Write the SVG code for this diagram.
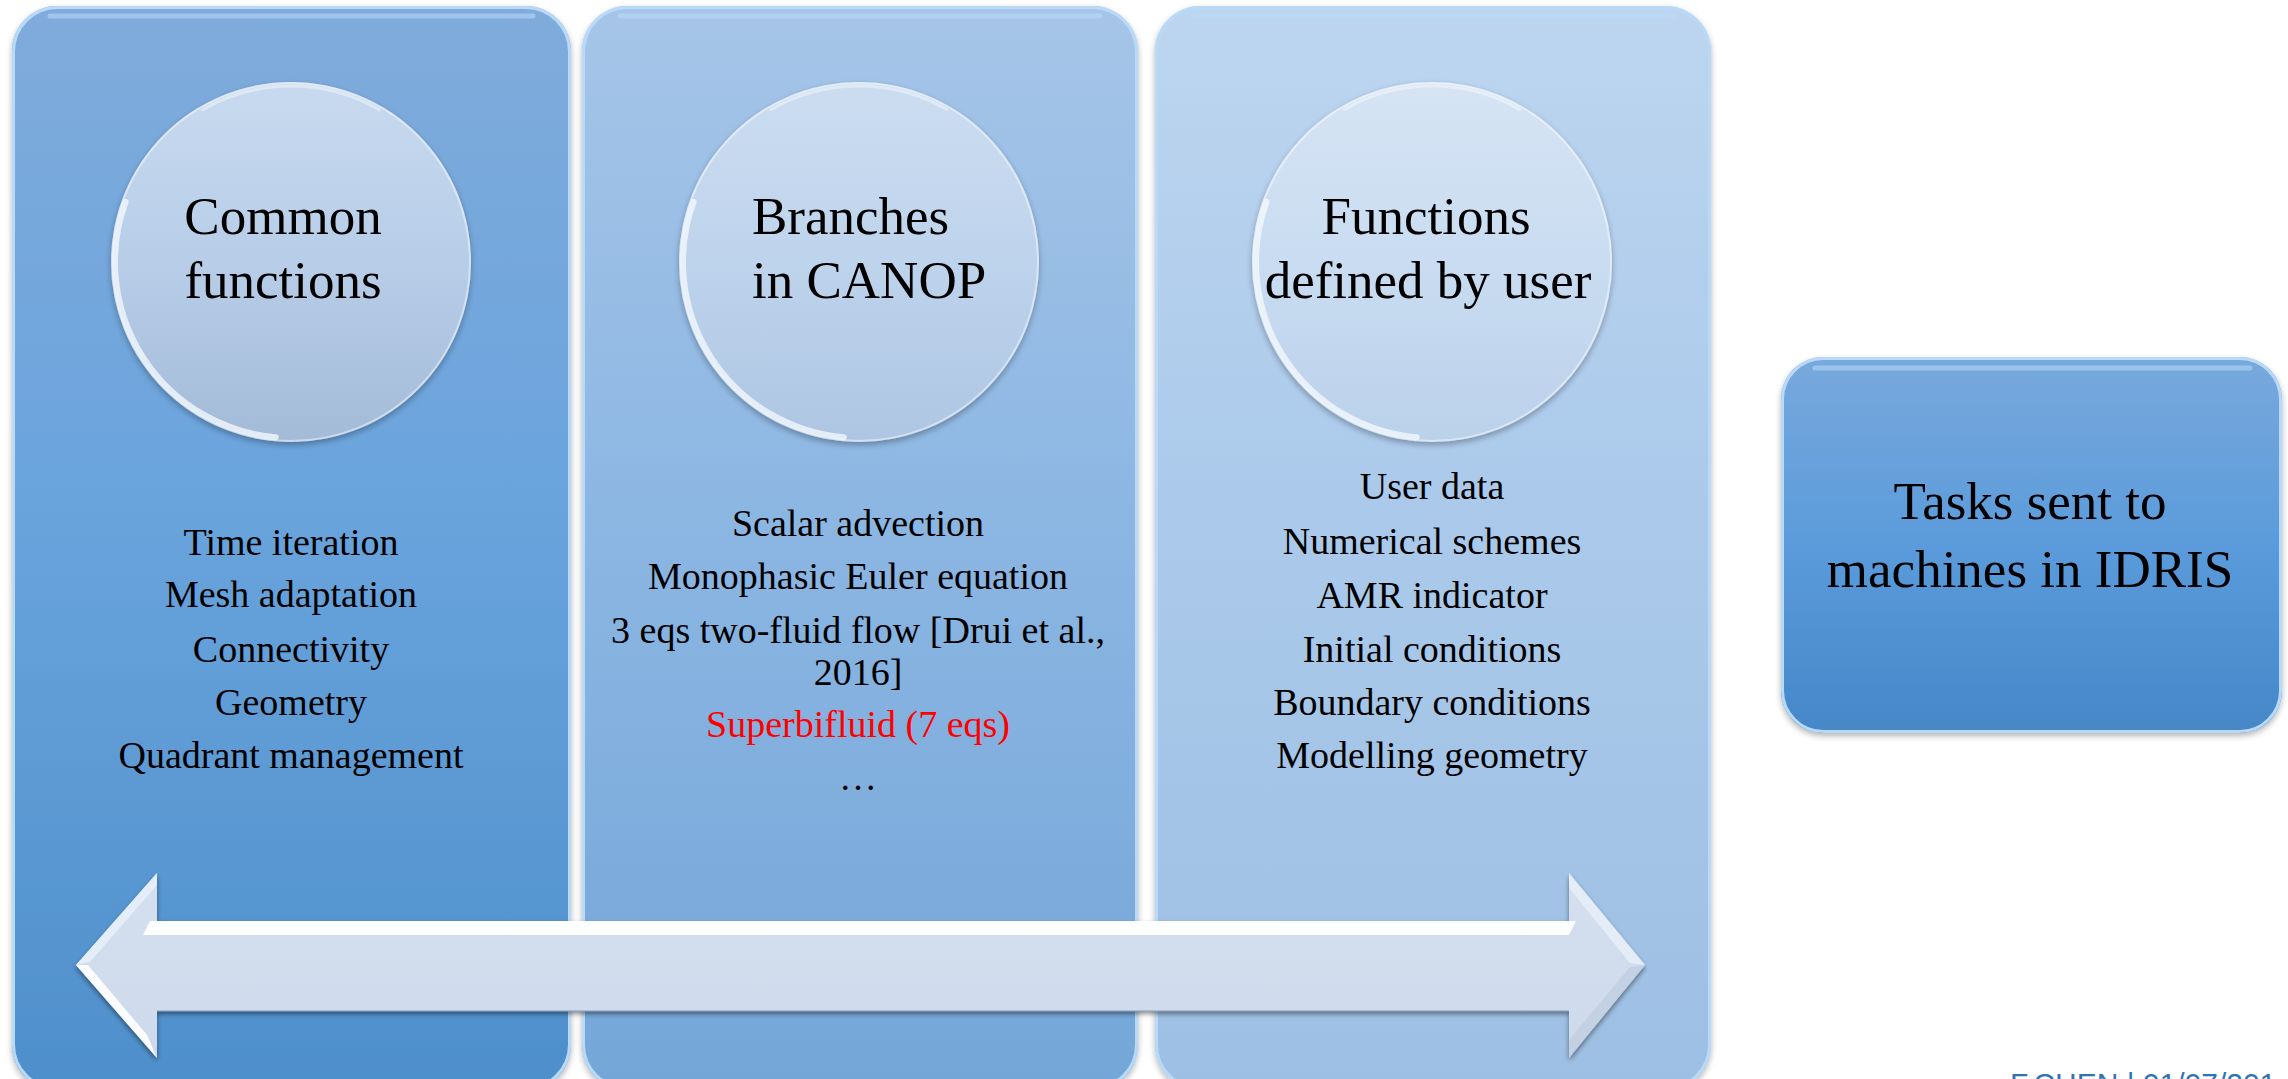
<svg xmlns="http://www.w3.org/2000/svg" width="2288" height="1079" viewBox="0 0 2288 1079">
<defs>
  <linearGradient id="gp1" x1="0" y1="0" x2="0" y2="1">
    <stop offset="0" stop-color="#80ABDB"/><stop offset="0.45" stop-color="#6AA4DD"/><stop offset="1" stop-color="#4E8FCB"/>
  </linearGradient>
  <linearGradient id="gp2" x1="0" y1="0" x2="0" y2="1">
    <stop offset="0" stop-color="#A6C5E8"/><stop offset="0.45" stop-color="#8DB7E3"/><stop offset="1" stop-color="#74A6D8"/>
  </linearGradient>
  <linearGradient id="gp3" x1="0" y1="0" x2="0" y2="1">
    <stop offset="0" stop-color="#BDD5EF"/><stop offset="0.45" stop-color="#ABCAEB"/><stop offset="1" stop-color="#9DBFE3"/>
  </linearGradient>
  <linearGradient id="gbox" x1="0" y1="0" x2="0" y2="1">
    <stop offset="0" stop-color="#78A9DC"/><stop offset="0.5" stop-color="#5B9BDB"/><stop offset="1" stop-color="#4587C8"/>
  </linearGradient>
  <linearGradient id="gc1" x1="0" y1="0" x2="0" y2="1">
    <stop offset="0" stop-color="#C8DAEF"/><stop offset="0.5" stop-color="#B7CDE8"/><stop offset="1" stop-color="#A4BBD8"/>
  </linearGradient>
  <linearGradient id="gc2" x1="0" y1="0" x2="0" y2="1">
    <stop offset="0" stop-color="#CCDDF1"/><stop offset="0.5" stop-color="#BED3EC"/><stop offset="1" stop-color="#AEC6E3"/>
  </linearGradient>
  <linearGradient id="gc3" x1="0" y1="0" x2="0" y2="1">
    <stop offset="0" stop-color="#D6E4F4"/><stop offset="0.5" stop-color="#C9DCF1"/><stop offset="1" stop-color="#BBD1EA"/>
  </linearGradient>
  <linearGradient id="garrow" x1="0" y1="0" x2="0" y2="1">
    <stop offset="0" stop-color="#D4E0EF"/><stop offset="1" stop-color="#CEDAEB"/>
  </linearGradient>
  <filter id="soft" x="-10%" y="-10%" width="120%" height="120%">
    <feGaussianBlur in="SourceAlpha" stdDeviation="3"/>
    <feOffset dx="0" dy="3"/>
    <feComponentTransfer><feFuncA type="linear" slope="0.3"/></feComponentTransfer>
    <feMerge><feMergeNode/><feMergeNode in="SourceGraphic"/></feMerge>
  </filter>
  <filter id="ashadow" x="-5%" y="-20%" width="110%" height="140%">
    <feGaussianBlur in="SourceAlpha" stdDeviation="2.5"/>
    <feOffset dx="0" dy="3"/>
    <feComponentTransfer><feFuncA type="linear" slope="0.45"/></feComponentTransfer>
    <feMerge><feMergeNode/><feMergeNode in="SourceGraphic"/></feMerge>
  </filter>
</defs>
<style>
  .panel-edge { fill: none; stroke: #B8DAF8; stroke-width: 3; }
  .top-hl { fill: none; stroke: #B9DBF9; stroke-width: 5; stroke-linecap: round; opacity: 0.55; }
  .circ-edge { fill: none; stroke: #FFFFFF; stroke-width: 2; opacity: 0.45; }
  .rim { fill: none; stroke: #F2F7FD; stroke-width: 6; stroke-linecap: round; opacity: 0.8; }
  .rim-top { fill: none; stroke: #FFFFFF; stroke-width: 3; stroke-linecap: round; opacity: 0.4; }
  .title { font-family: "Liberation Serif", "Times New Roman", serif; font-size: 53px; fill: #000000; }
  .body { font-family: "Liberation Serif", "Times New Roman", serif; font-size: 38px; fill: #000000; text-anchor: middle; }
  .red { fill: #FF0000; }
  .footer { font-family: "Liberation Sans", Arial, sans-serif; font-size: 30px; fill: #2E74B5; }
</style>

<rect width="2288" height="1079" fill="#FFFFFF"/>

<g id="panel-common">
  <rect x="12" y="6" width="559" height="1084" rx="45" fill="url(#gp1)" filter="url(#soft)"/>
  <rect x="13.5" y="7.5" width="556" height="1081" rx="44" class="panel-edge"/>
  <path d="M 50 16 L 533 16" class="top-hl"/>
  <g transform="translate(291,262)">
    <circle r="180" fill="url(#gc1)" filter="url(#soft)"/>
    <circle r="179" class="circ-edge"/>
    <path d="M -15.3 175.3 A 176 176 0 0 1 -165.4 -60.2" class="rim"/>
    <path d="M -88 -152.4 A 176 176 0 0 1 88 -152.4" class="rim-top"/>
  </g>
  <text class="title" x="283" y="234" text-anchor="middle">Common</text>
  <text class="title" x="283" y="298" text-anchor="middle">functions</text>
  <text class="body" x="291" y="555">Time iteration</text>
  <text class="body" x="291" y="607">Mesh adaptation</text>
  <text class="body" x="291" y="662">Connectivity</text>
  <text class="body" x="291" y="715">Geometry</text>
  <text class="body" x="291" y="768">Quadrant management</text>
</g>

<g id="panel-branches">
  <rect x="582" y="6" width="556" height="1084" rx="45" fill="url(#gp2)" filter="url(#soft)"/>
  <rect x="583.5" y="7.5" width="553" height="1081" rx="44" class="panel-edge"/>
  <path d="M 620 16 L 1100 16" class="top-hl"/>
  <g transform="translate(859,262)">
    <circle r="180" fill="url(#gc2)" filter="url(#soft)"/>
    <circle r="179" class="circ-edge"/>
    <path d="M -15.3 175.3 A 176 176 0 0 1 -165.4 -60.2" class="rim"/>
    <path d="M -88 -152.4 A 176 176 0 0 1 88 -152.4" class="rim-top"/>
  </g>
  <text class="title" x="752" y="234">Branches</text>
  <text class="title" x="752" y="298">in CANOP</text>
  <text class="body" x="858" y="536">Scalar advection</text>
  <text class="body" x="858" y="589">Monophasic Euler equation</text>
  <text class="body" x="858" y="643">3 eqs two-fluid flow [Drui et al.,</text>
  <text class="body" x="858" y="685">2016]</text>
  <text class="body red" x="858" y="737">Superbifluid (7 eqs)</text>
  <text class="body" x="858" y="790">…</text>
</g>

<g id="panel-user">
  <rect x="1155" y="6" width="556" height="1084" rx="45" fill="url(#gp3)" filter="url(#soft)"/>
  <rect x="1156.5" y="7.5" width="553" height="1081" rx="44" class="panel-edge"/>
  <path d="M 1193 16 L 1673 16" class="top-hl"/>
  <g transform="translate(1432,262)">
    <circle r="180" fill="url(#gc3)" filter="url(#soft)"/>
    <circle r="179" class="circ-edge"/>
    <path d="M -15.3 175.3 A 176 176 0 0 1 -165.4 -60.2" class="rim"/>
    <path d="M -88 -152.4 A 176 176 0 0 1 88 -152.4" class="rim-top"/>
  </g>
  <text class="title" x="1426" y="234" text-anchor="middle">Functions</text>
  <text class="title" x="1428" y="298" text-anchor="middle">defined by user</text>
  <text class="body" x="1432" y="499">User data</text>
  <text class="body" x="1432" y="554">Numerical schemes</text>
  <text class="body" x="1432" y="608">AMR indicator</text>
  <text class="body" x="1432" y="662">Initial conditions</text>
  <text class="body" x="1432" y="715">Boundary conditions</text>
  <text class="body" x="1432" y="768">Modelling geometry</text>
</g>

<g id="connectors">
  <g filter="url(#ashadow)">
    <path d="M 76 965 L 157 873 L 157 921 L 1569 921 L 1569 873 L 1645 965 L 1569 1058 L 1569 1011 L 157 1011 L 157 1058 Z" fill="url(#garrow)"/>
  </g>
  <path d="M 150 921 L 1576 921 L 1569 935 L 143 935 Z" fill="#FFFFFF" opacity="0.95"/>
  <path d="M 76 965 L 88 965 L 147 1035 L 157 1058 Z" fill="#FFFFFF" opacity="0.9"/>
  <path d="M 76 965 L 157 873 L 157 885 L 90 962 Z" fill="#E6EEF8" opacity="0.9"/>
  <path d="M 1645 965 L 1569 873 L 1569 888 L 1630 963 Z" fill="#E8F0F9" opacity="0.8"/>
  <path d="M 1569 1058 L 1569 1040 L 1630 967 L 1645 965 Z" fill="#BAC9DD" opacity="0.6"/>
  <path d="M 157 1011 L 1569 1011" stroke="#8FA6C4" stroke-width="2" opacity="0.6"/>
</g>

<g id="box-tasks">
  <rect x="1781" y="357" width="501" height="376" rx="42" fill="url(#gbox)" filter="url(#soft)"/>
  <rect x="1782.5" y="358.5" width="498" height="373" rx="41" class="panel-edge"/>
  <path d="M 1815 368 L 2250 368" class="top-hl"/>
  <text class="title" x="2030" y="519" text-anchor="middle" font-size="43">Tasks sent to</text>
  <text class="title" x="2030" y="587" text-anchor="middle" font-size="43">machines in IDRIS</text>
</g>

<text class="footer" x="2010" y="1094">F.CHEN | 01/07/201</text>
</svg>
